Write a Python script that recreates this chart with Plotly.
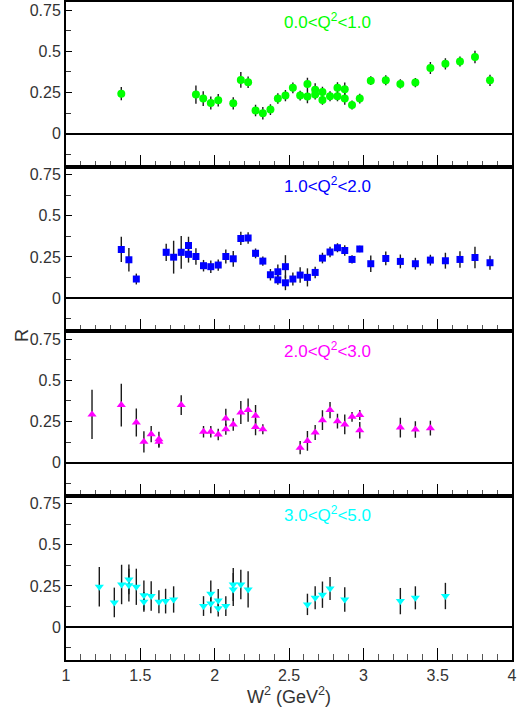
import plotly.graph_objects as go
from plotly.subplots import make_subplots

# Panel 1: 0.0<Q2<1.0
w2_p1 = [1.372, 1.874, 1.923, 1.974, 2.024, 2.125, 2.176, 2.225, 2.275, 2.324, 2.375, 2.425, 2.476,
         2.526, 2.575, 2.624, 2.624, 2.676, 2.676, 2.725, 2.725, 2.776, 2.826, 2.826, 2.875, 2.875,
         2.924, 2.976, 3.050, 3.151, 3.249, 3.350, 3.451, 3.552, 3.650, 3.751, 3.852]
r_p1 = [0.243, 0.237, 0.213, 0.186, 0.203, 0.184, 0.326, 0.312, 0.140, 0.124, 0.146, 0.213, 0.231,
        0.278, 0.231, 0.302, 0.225, 0.266, 0.237, 0.253, 0.205, 0.227, 0.278, 0.227, 0.270, 0.213,
        0.174, 0.213, 0.322, 0.324, 0.302, 0.310, 0.399, 0.424, 0.438, 0.466, 0.324]
err_p1 = [0.040, 0.055, 0.045, 0.040, 0.038, 0.037, 0.048, 0.035, 0.035, 0.038, 0.033, 0.032, 0.034,
          0.033, 0.030, 0.038, 0.040, 0.040, 0.030, 0.032, 0.030, 0.030, 0.034, 0.030, 0.040, 0.038,
          0.027, 0.030, 0.027, 0.030, 0.028, 0.028, 0.036, 0.034, 0.030, 0.038, 0.034]

# Panel 2: 1.0<Q2<2.0
w2_p2 = [1.372, 1.423, 1.473, 1.674, 1.724, 1.775, 1.824, 1.824, 1.874, 1.925, 1.974, 2.024, 2.075,
         2.125, 2.176, 2.225, 2.275, 2.324, 2.375, 2.425, 2.425, 2.476, 2.476, 2.526, 2.575, 2.624,
         2.676, 2.725, 2.776, 2.826, 2.875, 2.924, 2.976, 3.050, 3.151, 3.249, 3.350, 3.451, 3.552,
         3.650, 3.751, 3.852]
r_p2 = [0.296, 0.233, 0.116, 0.278, 0.249, 0.278, 0.320, 0.266, 0.253, 0.197, 0.191, 0.201, 0.253,
        0.239, 0.363, 0.365, 0.272, 0.225, 0.142, 0.160, 0.111, 0.191, 0.093, 0.116, 0.140, 0.126,
        0.156, 0.243, 0.280, 0.306, 0.290, 0.235, 0.298, 0.209, 0.241, 0.223, 0.209, 0.231, 0.227,
        0.235, 0.247, 0.215]
err_p2 = [0.077, 0.071, 0.033, 0.053, 0.100, 0.100, 0.053, 0.050, 0.050, 0.035, 0.038, 0.034, 0.043,
          0.048, 0.040, 0.035, 0.030, 0.028, 0.035, 0.045, 0.030, 0.070, 0.045, 0.040, 0.047, 0.055,
          0.035, 0.032, 0.032, 0.028, 0.032, 0.025, 0.020, 0.050, 0.042, 0.042, 0.036, 0.033, 0.048,
          0.050, 0.065, 0.043]

# Panel 3: 2.0<Q2<3.0
w2_p3 = [1.175, 1.372, 1.473, 1.524, 1.573, 1.625, 1.625, 1.775, 1.925, 1.974, 2.024, 2.075, 2.075,
         2.125, 2.176, 2.225, 2.275, 2.275, 2.324, 2.575, 2.624, 2.676, 2.725, 2.776, 2.826, 2.875,
         2.924, 2.976, 2.976, 3.249, 3.350, 3.451]
r_p3 = [0.293, 0.350, 0.244, 0.126, 0.173, 0.142, 0.126, 0.350, 0.187, 0.187, 0.171, 0.268, 0.203,
        0.232, 0.305, 0.319, 0.285, 0.217, 0.203, 0.091, 0.132, 0.183, 0.258, 0.319, 0.252, 0.232,
        0.278, 0.289, 0.197, 0.213, 0.201, 0.209]
err_p3 = [0.150, 0.130, 0.085, 0.065, 0.050, 0.045, 0.035, 0.060, 0.035, 0.035, 0.035, 0.060, 0.033,
          0.038, 0.070, 0.070, 0.065, 0.050, 0.030, 0.040, 0.060, 0.045, 0.060, 0.050, 0.045, 0.060,
          0.030, 0.030, 0.050, 0.060, 0.050, 0.045]

# Panel 4: 3.0<Q2<5.0
w2_p4 = [1.224, 1.325, 1.374, 1.423, 1.423, 1.473, 1.524, 1.524, 1.573, 1.625, 1.670, 1.724, 1.925,
         1.974, 1.974, 2.024, 2.024, 2.075, 2.125, 2.125, 2.176, 2.225, 2.624, 2.676, 2.725, 2.776,
         2.875, 3.249, 3.350, 3.552]
r_p4 = [0.245, 0.150, 0.259, 0.290, 0.255, 0.245, 0.193, 0.154, 0.189, 0.154, 0.158, 0.168, 0.128,
        0.203, 0.144, 0.162, 0.114, 0.128, 0.259, 0.229, 0.259, 0.229, 0.138, 0.178, 0.197, 0.235,
        0.168, 0.158, 0.178, 0.189]
err_p4 = [0.120, 0.090, 0.120, 0.090, 0.100, 0.110, 0.090, 0.060, 0.090, 0.070, 0.075, 0.080, 0.060,
          0.080, 0.060, 0.070, 0.050, 0.060, 0.100, 0.100, 0.090, 0.110, 0.065, 0.070, 0.080, 0.070,
          0.075, 0.080, 0.070, 0.080]

panel_labels = ["0.0<Q<sup>2</sup><1.0", "1.0<Q<sup>2</sup><2.0",
                "2.0<Q<sup>2</sup><3.0", "3.0<Q<sup>2</sup><5.0"]
panel_colors = ["#00ff00", "#0000ff", "#ff00ff", "#00ffff"]
panel_symbols = ["circle", "square", "triangle-up", "triangle-down"]
panel_sizes = [8, 7, 8, 8]

y_tickvals = [0, 0.25, 0.5, 0.75]
y_ticktext = ["0", "0.25", "0.5", "0.75"]
x_tickvals = [1, 1.5, 2, 2.5, 3, 3.5, 4]
x_ticktext = ["1", "1.5", "2", "2.5", "3", "3.5", "4"]

FONT = "Liberation Sans Narrow, Liberation Sans, Arial, sans-serif"

fig = make_subplots(rows=4, cols=1, shared_xaxes=True, vertical_spacing=0)

data = [(w2_p1, r_p1, err_p1), (w2_p2, r_p2, err_p2), (w2_p3, r_p3, err_p3), (w2_p4, r_p4, err_p4)]
for i, (xs, ys, es) in enumerate(data):
    fig.add_trace(go.Scatter(
        x=xs, y=ys, mode="markers",
        marker=dict(symbol=panel_symbols[i], color=panel_colors[i], size=panel_sizes[i], line=dict(width=0)),
        error_y=dict(type="data", array=es, visible=True, color="#1a1a1a", thickness=1.4, width=0),
        showlegend=False), row=i + 1, col=1)
    fig.add_annotation(x=2.76, y=0.685, xref=f"x{i + 1 if i else ''}", yref=f"y{i + 1 if i else ''}",
                       text=panel_labels[i], showarrow=False,
                       font=dict(family=FONT, size=17, color=panel_colors[i]))
    fig.update_yaxes(range=[-0.2, 0.8], tickvals=y_tickvals, ticktext=y_ticktext,
                     ticks="inside", ticklen=6, tickwidth=1.2, tickcolor="black",
                     minor=dict(dtick=0.125, tick0=0, ticks="inside", ticklen=5, tickcolor="#333"),
                     showline=True, linecolor="black", linewidth=2, mirror=True,
                     showgrid=False, zeroline=True, zerolinecolor="black", zerolinewidth=1.5,
                     tickfont=dict(family=FONT, size=16, color="#333"),
                     row=i + 1, col=1)
    fig.update_xaxes(range=[1, 4], tickvals=x_tickvals, ticktext=x_ticktext,
                     ticks="inside", ticklen=12, tickwidth=1.2, tickcolor="black",
                     minor=dict(dtick=0.1, tick0=1, ticks="inside", ticklen=6, tickcolor="#555"),
                     showline=True, linecolor="black", linewidth=1.5, mirror=True,
                     showgrid=False, zeroline=False,
                     showticklabels=(i == 3),
                     tickfont=dict(family=FONT, size=16, color="#333"),
                     row=i + 1, col=1)

fig.update_xaxes(title=dict(text="W<sup>2</sup> (GeV<sup>2</sup>)", standoff=2,
                            font=dict(family=FONT, size=18, color="#333")), row=4, col=1)
fig.add_annotation(x=(22 - 66) / (519 - 66 - 7), y=1 - 335 / (714 - 54), xref="paper", yref="paper",
                   text="R", showarrow=False, textangle=-90, xanchor="center", yanchor="middle",
                   font=dict(family=FONT, size=18, color="#333"))

fig.update_layout(width=519, height=714, margin=dict(l=66, r=7, t=0, b=54),
                  plot_bgcolor="white", paper_bgcolor="white")
fig.write_html("out.html")
